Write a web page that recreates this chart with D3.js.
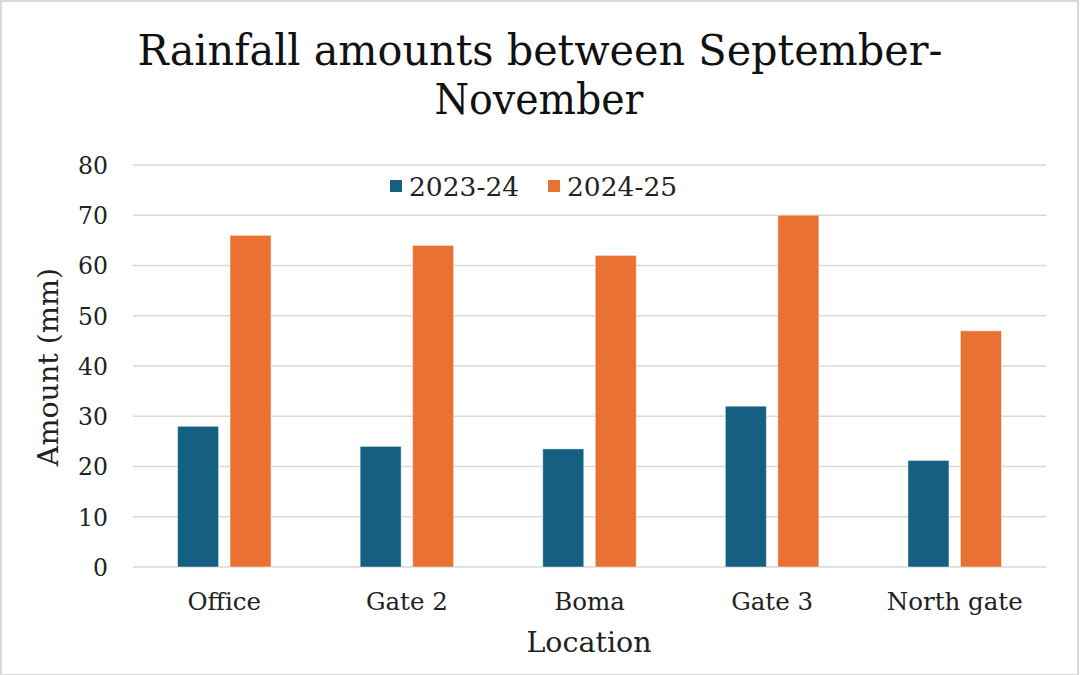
<!DOCTYPE html>
<html><head><meta charset="utf-8">
<script src="https://cdn.jsdelivr.net/npm/d3@7"></script>
<style>html,body{margin:0;padding:0;background:#fff;}svg{display:block;}</style>
</head><body>
<svg id="chart" width="1080" height="675"></svg>
<script>
const categories = ["Office", "Gate 2", "Boma", "Gate 3", "North gate"];
const seriesNames = ["2023-24", "2024-25"];
const values2023 = [28, 24, 23.5, 32, 21.2];
const values2024 = [66, 64, 62, 70, 47];
const yTicks = [0, 10, 20, 30, 40, 50, 60, 70, 80];
const colors = ["#156082", "#E97132"];

(function () {
const svg = d3.select("#chart");
const W = 1080, H = 675;
const serif = "'DejaVu Serif', serif";

svg.append("rect").attr("x", 1).attr("y", 1).attr("width", W - 3).attr("height", H - 1)
  .attr("fill", "#fff").attr("stroke", "#d9d9d9").attr("stroke-width", 2);

const pLeft = 133, pRight = 1046, pTop = 165, pBottom = 567;
const y = d3.scaleLinear().domain([0, 80]).range([pBottom, pTop]);
const x0 = d3.scaleBand().domain(categories).range([pLeft, pRight]).paddingInner(0.488).paddingOuter(0.244);
const x1 = d3.scaleBand().domain(seriesNames).range([0, x0.bandwidth()]).paddingInner(0.219);

svg.append("g").selectAll("line").data(yTicks).join("line")
  .attr("x1", pLeft).attr("x2", pRight)
  .attr("y1", d => y(d)).attr("y2", d => y(d))
  .attr("stroke", "#d9d9d9").attr("stroke-width", 1.6);

const yAxis = d3.axisLeft(y).tickValues(yTicks).tickSize(0).tickPadding(0);
const ya = svg.append("g").attr("transform", `translate(108,0)`).call(yAxis);
ya.select(".domain").remove();
ya.selectAll("text").attr("font-family", serif).attr("font-size", 23.5).attr("fill", "#222")
  .attr("dy", "0.36em");

const data = categories.map((c, i) => ({cat: c, vals: [values2023[i], values2024[i]]}));
const groups = svg.append("g").selectAll("g").data(data).join("g")
  .attr("transform", d => `translate(${x0(d.cat)},0)`);
groups.selectAll("rect").data(d => d.vals.map((v, j) => ({key: seriesNames[j], v, j}))).join("rect")
  .attr("x", d => x1(d.key)).attr("width", x1.bandwidth())
  .attr("y", d => y(d.v)).attr("height", d => y(0) - y(d.v))
  .attr("fill", d => colors[d.j]).attr("stroke", "rgba(255,255,255,0.45)").attr("stroke-width", 1);

const xAxis = d3.axisBottom(x0).tickSize(0).tickPadding(0);
const xa = svg.append("g").attr("transform", `translate(0,${pBottom})`).call(xAxis);
xa.select(".domain").remove();
xa.selectAll("text").attr("font-family", serif).attr("font-size", 24.5).attr("fill", "#222")
  .attr("y", 43).attr("dy", 0);

svg.append("text").attr("x", 589).attr("y", 652).attr("text-anchor", "middle")
  .attr("font-family", serif).attr("font-size", 28.5).attr("fill", "#222").text("Location");
svg.append("text").attr("transform", "translate(58,367) rotate(-90)").attr("text-anchor", "middle")
  .attr("font-family", serif).attr("font-size", 28.5).attr("fill", "#222").text("Amount (mm)");

const t = svg.append("text").attr("text-anchor", "middle").attr("font-family", serif)
  .attr("font-size", 42).attr("fill", "#111").style("font-stretch", "condensed");
t.append("tspan").attr("x", 540).attr("y", 65).attr("textLength", 805).attr("lengthAdjust", "spacingAndGlyphs").text("Rainfall amounts between September-");
t.append("tspan").attr("x", 539).attr("y", 114).attr("textLength", 209).attr("lengthAdjust", "spacingAndGlyphs").text("November");

const legX = [390, 548];
const leg = svg.append("g").selectAll("g").data(seriesNames).join("g")
  .attr("transform", (d, i) => `translate(${legX[i]},186)`);
leg.append("rect").attr("x", 0).attr("y", -6).attr("width", 12).attr("height", 12)
  .attr("fill", (d, i) => colors[i]);
leg.append("text").attr("x", 19).attr("y", 0).attr("dy", "0.36em")
  .attr("font-family", serif).attr("font-size", 26.5).attr("fill", "#222").text(d => d);
})();
</script>
</body></html>
